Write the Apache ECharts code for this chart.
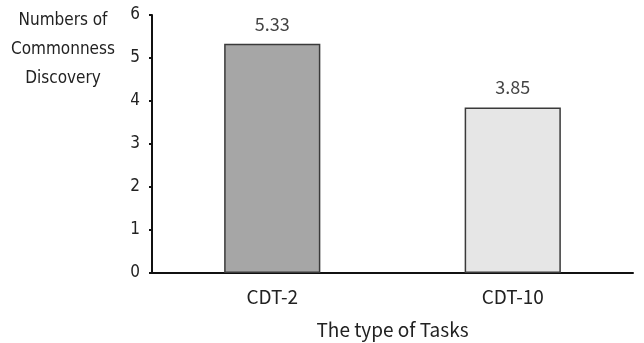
<!DOCTYPE html>
<html>
<head>
<meta charset="utf-8">
<script src="https://cdn.jsdelivr.net/npm/echarts@6/dist/echarts.min.js"></script>
<style>
  html, body { margin: 0; padding: 0; background: #fff; }
  #chart { width: 644px; height: 343px; }
</style>
</head>
<body>
<div id="chart"></div>
<script>
const taskTypes = ['CDT-2', 'CDT-10'];
const discoveryCounts = [5.33, 3.85];
const barColors = ['#a6a6a6', '#e6e6e6'];
const yTicks = [0, 1, 2, 3, 4, 5, 6];

const chart = echarts.init(document.getElementById('chart'), null, { renderer: 'canvas' });
const labelFont = '"Noto Sans CJK KR", "Noto Sans", sans-serif';
const narrowFont = '"Liberation Sans Narrow", "DejaVu Sans Condensed", "Liberation Sans", sans-serif';

chart.setOption({
  animation: false,
  title: {
    text: 'Numbers of\nCommonness\nDiscovery',
    left: 58,
    top: 1,
    textAlign: 'center',
    textStyle: {
      fontFamily: narrowFont,
      fontSize: 17,
      fontWeight: 'normal',
      color: '#222',
      lineHeight: 29
    }
  },
  grid: { left: 152, right: 11, top: 15, bottom: 70, outerBoundsMode: 'none', containLabel: false },
  xAxis: {
    type: 'category',
    data: taskTypes,
    name: 'The type of Tasks',
    nameLocation: 'middle',
    nameGap: 47,
    nameTextStyle: { fontFamily: labelFont, fontSize: 19, color: '#222', letterSpacing: 0.6 },
    axisLine: { lineStyle: { color: '#111', width: 2 } },
    axisTick: { show: false },
    axisLabel: { fontFamily: labelFont, fontSize: 19, color: '#222', margin: 14, letterSpacing: 1.5 }
  },
  yAxis: {
    type: 'value',
    min: 0,
    max: yTicks[yTicks.length - 1],
    interval: 1,
    axisLine: { show: true, lineStyle: { color: '#111', width: 2 } },
    axisTick: { show: true, length: 3, lineStyle: { color: '#111', width: 2 } },
    axisLabel: { fontFamily: narrowFont, fontSize: 17, color: '#222', margin: 12 },
    splitLine: { show: false }
  },
  series: [{
    type: 'bar',
    barWidth: '40%',
    data: discoveryCounts.map((v, i) => ({
      value: v,
      itemStyle: { color: barColors[i] }
    })),
    itemStyle: { borderColor: '#3a3a3a', borderWidth: 1.5 },
    label: {
      show: true,
      position: 'top',
      distance: 11,
      fontFamily: labelFont,
      fontSize: 18,
      color: '#444',
      letterSpacing: 1.5,
      formatter: (p) => p.value.toFixed(2)
    }
  }]
});
</script>
</body>
</html>
